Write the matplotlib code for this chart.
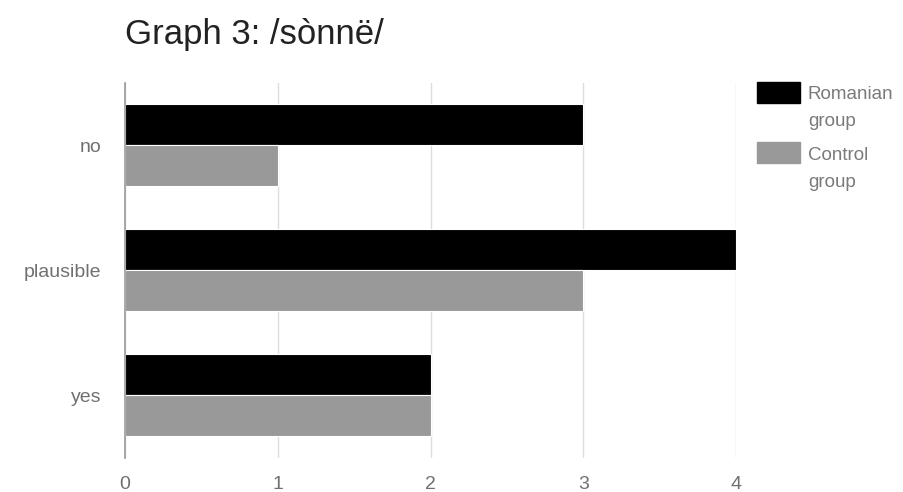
import matplotlib
matplotlib.use("Agg")
import matplotlib.pyplot as plt
from matplotlib.patches import Rectangle
import numpy as np

plt.rcParams['font.family'] = ['Liberation Sans', 'DejaVu Sans']

categories = ["no", "plausible", "yes"]
romanian = [3, 4, 2]
control = [1, 3, 2]
series_names = ["Romanian\ngroup", "Control\ngroup"]
colors = ["#000000", "#999999"]
x_ticks = [0, 1, 2, 3, 4]

fig = plt.figure(figsize=(9.04, 4.92), dpi=100)
ax = fig.add_axes([0.1383, 0.0701, 0.6759, 0.7622])

pos = np.arange(len(categories))
h = 0.328
ax.barh(pos - h / 2, romanian, height=h, color=colors[0], edgecolor="white", linewidth=0.8, zorder=3)
ax.barh(pos + h / 2, control, height=h, color=colors[1], edgecolor="white", linewidth=0.8, zorder=3)

ax.set_ylim(len(categories) - 0.5, -0.5)
ax.set_xlim(0, 4)
ax.set_yticks(pos)
ax.set_yticklabels(categories)
ax.set_xticks(x_ticks)
ax.set_xticklabels([str(t) for t in x_ticks])
ax.tick_params(axis="both", length=0, colors="#707070", labelsize=14)
ax.tick_params(axis="y", pad=17)
ax.tick_params(axis="x", pad=13)
ax.grid(axis="x", color="#dddddd", linewidth=1, zorder=0)
for s in ["top", "right", "bottom"]:
    ax.spines[s].set_visible(False)
ax.spines["left"].set_color("#999999")
ax.spines["left"].set_linewidth(1.2)
ax.spines["left"].set_zorder(4)

W, H = 904, 492
fig.text(125 / W, 1 - 44 / H, "Graph 3: /sònnë/", fontsize=25, color="#222222",
         ha="left", va="baseline")

# legend drawn in figure pixels
for i, (name, c) in enumerate(zip(series_names, colors)):
    top = 82 + i * 60
    fig.add_artist(Rectangle((757 / W, 1 - (top + 21) / H), 43 / W, 21 / H,
                             transform=fig.transFigure, color=c))
    fig.text(808 / W, 1 - (top + 4 + i) / H, name, fontsize=13.5, color="#7a7a7a",
             ha="left", va="top", linespacing=1.75)

fig.savefig("out.png", dpi=100)
